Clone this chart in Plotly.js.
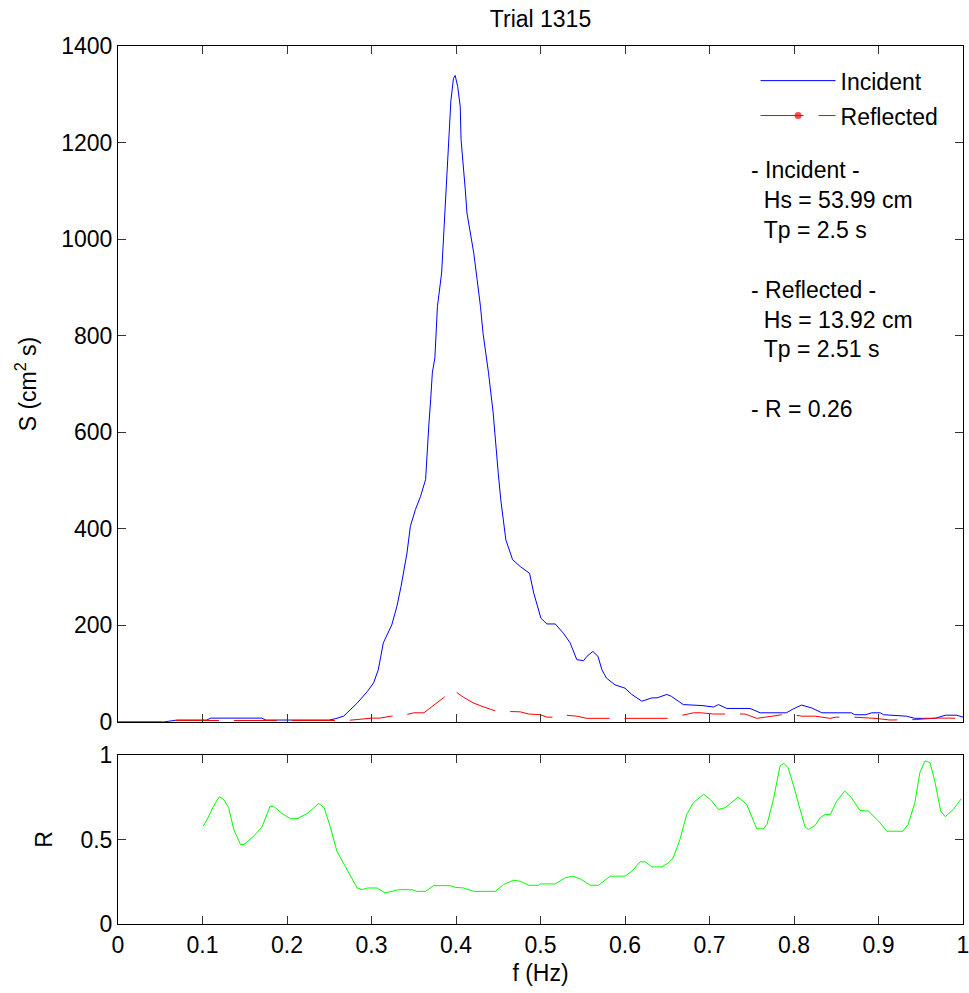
<!DOCTYPE html>
<html>
<head>
<meta charset="utf-8">
<script src="https://cdn.plot.ly/plotly-3.0.1.min.js"></script>
<style>html,body{margin:0;padding:0;background:#fff;}#chart{width:969px;height:993px;}</style>
</head>
<body>
<div id="chart"></div>
<script>
// Incident spectrum
var fInc = [0, 0.054, 0.07, 0.105, 0.11, 0.17, 0.175, 0.25, 0.258, 0.267, 0.283, 0.295, 0.3025, 0.308, 0.314, 0.324, 0.330, 0.335, 0.342, 0.346, 0.352, 0.358, 0.364, 0.366, 0.368, 0.370, 0.372, 0.375, 0.378, 0.383, 0.386, 0.389, 0.392, 0.394, 0.397, 0.399, 0.402, 0.405, 0.406, 0.409, 0.411, 0.413, 0.417, 0.421, 0.425, 0.429, 0.432, 0.436, 0.4385, 0.444, 0.4465, 0.450, 0.453, 0.456, 0.459, 0.467, 0.476, 0.487, 0.492, 0.5005, 0.5076, 0.5175, 0.527, 0.535, 0.543, 0.551, 0.555, 0.562, 0.568, 0.5727, 0.578, 0.588, 0.600, 0.608, 0.620, 0.632, 0.638, 0.6495, 0.655, 0.669, 0.691, 0.705, 0.7106, 0.7205, 0.748, 0.760, 0.791, 0.799, 0.809, 0.821, 0.833, 0.868, 0.872, 0.885, 0.892, 0.902, 0.906, 0.933, 0.943, 0.967, 0.979, 0.9925, 1.0];
var sInc = [0, 0, 4, 4, 8, 8, 4, 4, 7, 12, 39, 63, 81, 108, 164, 201, 239, 281, 350, 405, 440, 467, 502, 571, 619, 667, 723, 754, 860, 930, 1026, 1137, 1233, 1288, 1333, 1339, 1316, 1275, 1206, 1150, 1102, 1054, 1012, 971, 916, 860, 805, 754, 723, 640, 584, 515, 460, 419, 377, 336, 322, 308, 267, 215, 203, 203, 184, 164, 129, 127, 136, 146, 136, 108, 91, 77, 70, 57, 43, 50, 50, 57, 53, 36, 34, 31, 36, 28, 28, 19, 19, 27, 35, 29, 19, 19, 15, 15, 19, 19, 15, 12, 7.5, 7.5, 14, 14, 10];

// Reflected spectrum
var fRef = [0, 0.054, 0.07, 0.27, 0.283, 0.30, 0.31, 0.323, 0.334, 0.35, 0.362, 0.375, 0.385, 0.393, 0.397, 0.409, 0.421, 0.433, 0.4465, 0.456, 0.476, 0.486, 0.4997, 0.5076, 0.5175, 0.523, 0.543, 0.555, 0.616, 0.636, 0.6535, 0.66, 0.669, 0.681, 0.69, 0.7047, 0.742, 0.756, 0.774, 0.7915, 0.799, 0.809, 0.825, 0.8427, 0.85, 0.870, 0.896, 0.9137, 0.945, 0.967, 0.9846, 1.0];
var sRef = [0, 0, 3, 3, 5, 8, 8, 12, 12, 19, 19, 36, 50, 62, 66, 51, 39, 31, 23, 22, 21, 16.5, 15, 10, 10, 15, 12, 7.5, 7.5, 7.5, 7.5, 11, 14, 19, 19, 16.5, 16.5, 7.5, 12, 16.5, 15, 12, 12, 7.5, 10, 10, 7.5, 4, 5, 8, 8, 7];

// Reflection coefficient
var fR = [0.1008, 0.1055, 0.113, 0.120, 0.125, 0.131, 0.137, 0.145, 0.149, 0.1606, 0.1705, 0.1765, 0.180, 0.184, 0.194, 0.204, 0.212, 0.224, 0.2336, 0.2375, 0.244, 0.251, 0.259, 0.271, 0.283, 0.289, 0.295, 0.3066, 0.316, 0.324, 0.332, 0.348, 0.354, 0.364, 0.3735, 0.393, 0.399, 0.409, 0.421, 0.4465, 0.456, 0.468, 0.476, 0.486, 0.498, 0.4997, 0.5175, 0.529, 0.538, 0.547, 0.559, 0.5687, 0.5825, 0.600, 0.608, 0.618, 0.624, 0.632, 0.6436, 0.6515, 0.657, 0.665, 0.673, 0.681, 0.693, 0.701, 0.7106, 0.7185, 0.734, 0.744, 0.756, 0.764, 0.768, 0.7756, 0.7835, 0.788, 0.793, 0.799, 0.807, 0.813, 0.817, 0.825, 0.831, 0.837, 0.843, 0.8506, 0.860, 0.868, 0.878, 0.888, 0.900, 0.910, 0.929, 0.935, 0.943, 0.949, 0.955, 0.961, 0.967, 0.9736, 0.979, 0.9885, 0.998];
var rVal = [0.579, 0.619, 0.697, 0.753, 0.737, 0.688, 0.559, 0.470, 0.47, 0.52, 0.575, 0.648, 0.697, 0.697, 0.654, 0.623, 0.623, 0.654, 0.697, 0.713, 0.688, 0.579, 0.431, 0.322, 0.213, 0.203, 0.213, 0.213, 0.184, 0.193, 0.203, 0.203, 0.193, 0.193, 0.227, 0.227, 0.217, 0.213, 0.193, 0.193, 0.233, 0.259, 0.253, 0.229, 0.229, 0.237, 0.237, 0.273, 0.283, 0.267, 0.229, 0.229, 0.283, 0.283, 0.312, 0.368, 0.368, 0.338, 0.338, 0.362, 0.391, 0.5, 0.648, 0.718, 0.767, 0.737, 0.678, 0.688, 0.751, 0.708, 0.563, 0.563, 0.589, 0.737, 0.935, 0.951, 0.925, 0.826, 0.678, 0.575, 0.559, 0.583, 0.629, 0.648, 0.648, 0.727, 0.787, 0.747, 0.672, 0.668, 0.609, 0.549, 0.549, 0.589, 0.718, 0.896, 0.965, 0.955, 0.836, 0.668, 0.635, 0.678, 0.741];

// Tick labels
var fTicks = [0, 0.1, 0.2, 0.3, 0.4, 0.5, 0.6, 0.7, 0.8, 0.9, 1];
var fTickText = ['0', '0.1', '0.2', '0.3', '0.4', '0.5', '0.6', '0.7', '0.8', '0.9', '1'];
var sTicks = [0, 200, 400, 600, 800, 1000, 1200, 1400];
var rTicks = [0, 0.5, 1];
var rTickText = ['0', '0.5', '1'];

var seriesNames = ['Incident', 'Reflected'];
var titleText = 'Trial 1315';
var infoLines = ['- Incident -', '\u00a0\u00a0Hs = 53.99 cm', '\u00a0\u00a0Tp = 2.5 s', '', '- Reflected -', '\u00a0\u00a0Hs = 13.92 cm', '\u00a0\u00a0Tp = 2.51 s', '', '- R = 0.26'];

var FONT = 'Liberation Sans, Arial, sans-serif';
var FS = 23;

// Reflected markers: only used to show the dot in the legend sample (first colour is
// what the legend takes; every plotted marker is transparent).
var refMarkerColors = fRef.map(function (v, i) { return i === 0 ? '#ff0000' : 'rgba(0,0,0,0)'; });
var refMarkerSizes = fRef.map(function (v, i) { return i === 0 ? 0 : 7 * fRef.length / (fRef.length - 1); });

var traces = [
  {x: fInc, y: sInc, type: 'scatter', mode: 'lines', name: seriesNames[0],
   line: {color: '#0000ff', width: 1}, xaxis: 'x', yaxis: 'y', legendgroup: 'a'},
  {x: fRef, y: sRef, type: 'scatter', mode: 'lines+markers', name: seriesNames[1],
   line: {color: '#ff0000', width: 1, dash: '43px,15px'},
   marker: {color: refMarkerColors, size: refMarkerSizes, line: {width: 0}},
   xaxis: 'x', yaxis: 'y', legendgroup: 'b'},
  {x: fR, y: rVal, type: 'scatter', mode: 'lines', name: 'R', showlegend: false,
   line: {color: '#00ff00', width: 1}, xaxis: 'x2', yaxis: 'y2'}
];

var axBase = {
  showline: true, linecolor: '#000', linewidth: 1, mirror: 'ticks',
  ticks: 'inside', ticklen: 8, tickcolor: '#333', tickwidth: 1,
  showgrid: false, zeroline: false, ticklabeloverflow: 'allow',
  tickfont: {family: FONT, size: FS, color: '#000'}
};

var layout = {
  width: 969, height: 993,
  paper_bgcolor: '#fff', plot_bgcolor: '#fff',
  margin: {l: 118, r: 6, t: 46, b: 69},
  font: {family: FONT, size: FS, color: '#000'},
  title: {text: titleText, font: {family: FONT, size: FS, color: '#000'},
          x: 0.5578, xanchor: 'center', y: 1 - 19 / 993, yanchor: 'middle', yref: 'container'},
  xaxis: Object.assign({}, axBase, {range: [0, 1], tickmode: 'array', tickvals: fTicks, ticktext: fTickText,
    showticklabels: false, anchor: 'y'}),
  yaxis: Object.assign({}, axBase, {range: [0, 1400], tickmode: 'array', tickvals: sTicks, domain: [0.2301, 1], anchor: 'x',
    title: {text: 'S (cm<sup>2</sup> s)', font: {family: FONT, size: FS, color: '#000'}, standoff: 18}}),
  xaxis2: Object.assign({}, axBase, {range: [0, 1], tickmode: 'array', tickvals: fTicks, ticktext: fTickText, anchor: 'y2',
    title: {text: 'f (Hz)', font: {family: FONT, size: FS, color: '#000'}, standoff: 8}}),
  yaxis2: Object.assign({}, axBase, {range: [0, 1], tickmode: 'array', tickvals: rTicks, ticktext: rTickText,
    domain: [0, 0.1925], anchor: 'x2',
    title: {text: 'R', font: {family: FONT, size: FS, color: '#000'}, standoff: 21}}),
  showlegend: true,
  legend: {x: 0.7545, y: 0.985, xanchor: 'left', yanchor: 'top', bgcolor: 'rgba(0,0,0,0)',
           borderwidth: 0, font: {family: FONT, size: FS, color: '#000'}, itemwidth: 75,
           tracegroupgap: 2},
  annotations: [{
    xref: 'paper', yref: 'paper', x: 0.7465, y: 0.876, xanchor: 'left', yanchor: 'top',
    align: 'left', showarrow: false, text: infoLines.join('<br>'),
    font: {family: FONT, size: FS, color: '#000'}
  }]
};

Plotly.newPlot('chart', traces, layout, {staticPlot: true, displayModeBar: false});
</script>
</body>
</html>
